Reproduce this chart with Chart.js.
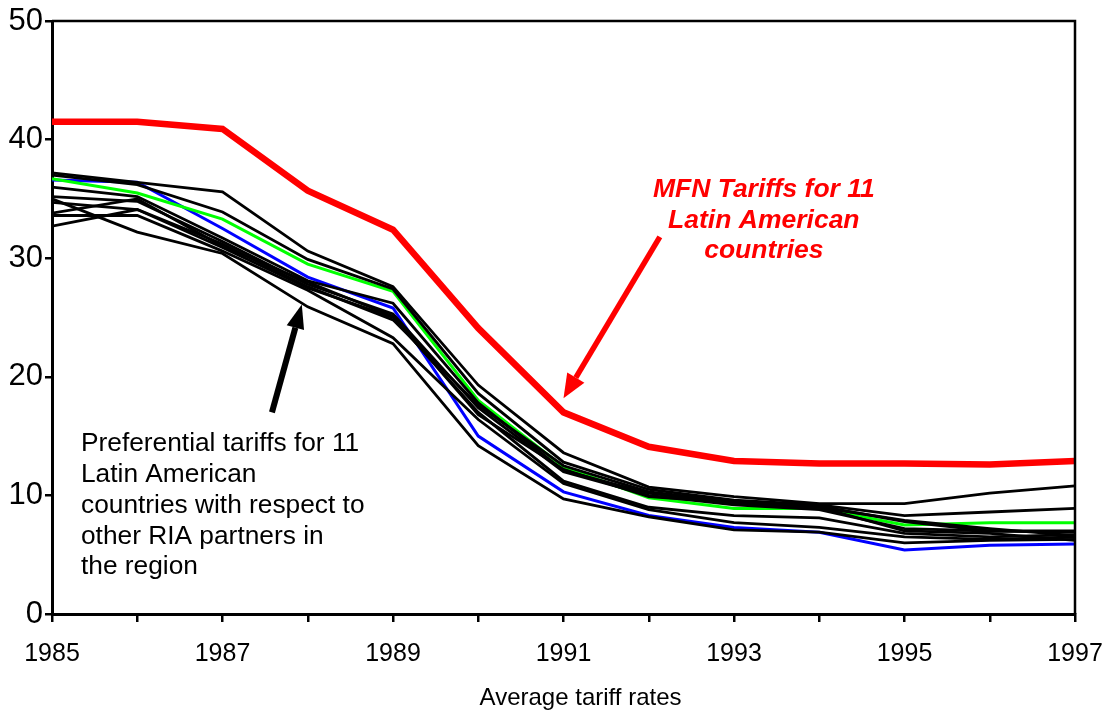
<!DOCTYPE html>
<html lang="en">
<head>
    <meta charset="UTF-8">
    <title>Average tariff rates</title>
    <script src="https://cdn.jsdelivr.net/npm/chart.js"></script>
    <style>
        html, body { margin: 0; padding: 0; background: #fff; }
        #wrap { width: 1102px; height: 716px; position: relative; }
    </style>
</head>
<body>
    <div id="wrap"><canvas id="tariffChart"></canvas></div>
    <script>
        // data
        const years = [1985, 1986, 1987, 1988, 1989, 1990, 1991, 1992, 1993, 1994, 1995, 1996, 1997];
        const mfnTariffs = [41.5, 41.5, 40.9, 35.7, 32.4, 24.1, 17.0, 14.1, 12.9, 12.7, 12.7, 12.6, 12.9];
        const greenCountry = [36.7, 35.5, 33.3, 29.5, 27.2, 18.0, 12.4, 9.8, 8.9, 8.9, 7.5, 7.7, 7.7];
        const blueCountry = [36.6, 36.4, 32.5, 28.4, 25.8, 15.0, 10.3, 8.3, 7.3, 6.9, 5.4, 5.8, 5.9];
        const blackCountries = [
            [37.2, 36.4, 35.6, 30.6, 27.6, 19.3, 13.6, 10.7, 9.9, 9.3, 9.3, 10.2, 10.8],
            [37.0, 36.2, 33.9, 29.9, 27.4, 18.6, 12.8, 10.5, 9.6, 9.2, 8.3, 8.6, 8.9],
            [36.0, 35.2, 31.7, 28.1, 26.2, 17.8, 12.1, 10.2, 9.3, 9.0, 7.9, 7.2, 6.6],
            [35.2, 34.8, 31.4, 27.8, 25.3, 17.4, 12.0, 10.0, 9.2, 8.8, 7.2, 7.0, 7.0],
            [34.7, 34.1, 30.9, 27.5, 25.0, 17.0, 11.2, 9.0, 8.3, 8.1, 6.8, 6.5, 6.7],
            [33.6, 33.6, 30.6, 27.3, 23.3, 16.4, 11.0, 8.8, 7.7, 7.3, 6.5, 6.3, 6.5],
            [33.8, 35.0, 31.0, 28.0, 25.1, 16.8, 12.2, 9.9, 9.4, 9.0, 7.0, 6.8, 6.2],
            [32.7, 34.1, 31.2, 27.6, 24.8, 17.6, 12.5, 10.3, 9.5, 9.1, 7.8, 7.0, 6.9],
            [35.0, 32.2, 30.4, 25.9, 22.8, 14.2, 9.7, 8.2, 7.1, 6.9, 6.0, 6.2, 6.3]
        ];
        const yTicks = [0, 10, 20, 30, 40, 50];
        const xLabelYears = [1985, 1987, 1989, 1991, 1993, 1995, 1997];

        const xTitle = 'Average tariff rates';
        const mfnNote = ['MFN Tariffs for 11', 'Latin American', 'countries'];
        const prefNote = ['Preferential tariffs for 11', 'Latin American', 'countries with respect to', 'other RIA partners in', 'the region'];

        function toPoints(values) {
            return values.map((v, i) => ({ x: years[i], y: v }));
        }

        const datasets = [];
        blackCountries.forEach(function(values) {
            datasets.push({ data: toPoints(values), borderColor: '#000', borderWidth: 2.8 });
        });
        datasets.push({ data: toPoints(greenCountry), borderColor: '#00ff00', borderWidth: 3 });
        datasets.push({ data: toPoints(blueCountry), borderColor: '#0000ff', borderWidth: 3 });
        datasets.push({ data: toPoints(mfnTariffs), borderColor: '#ff0000', borderWidth: 6.5 });

        function drawArrow(ctx, x1, y1, x2, y2, color, width, headLen, headWidth) {
            const ang = Math.atan2(y2 - y1, x2 - x1);
            const bx = x2 - headLen * Math.cos(ang);
            const by = y2 - headLen * Math.sin(ang);
            ctx.save();
            ctx.strokeStyle = color;
            ctx.fillStyle = color;
            ctx.lineWidth = width;
            ctx.beginPath();
            ctx.moveTo(x1, y1);
            ctx.lineTo(bx, by);
            ctx.stroke();
            ctx.beginPath();
            ctx.moveTo(x2, y2);
            ctx.lineTo(bx + headWidth / 2 * Math.sin(ang), by - headWidth / 2 * Math.cos(ang));
            ctx.lineTo(bx - headWidth / 2 * Math.sin(ang), by + headWidth / 2 * Math.cos(ang));
            ctx.closePath();
            ctx.fill();
            ctx.restore();
        }

        // frame, notes, arrows and the axis title
        const notesPlugin = {
            id: 'notes',
            afterDatasetsDraw(chart) {
                const ctx = chart.ctx;
                const xs = chart.scales.x, ys = chart.scales.y;
                const area = chart.chartArea;

                ctx.save();
                ctx.strokeStyle = '#000';
                ctx.lineWidth = 2.5;
                ctx.beginPath();
                ctx.moveTo(area.left, area.top);
                ctx.lineTo(area.right, area.top);
                ctx.lineTo(area.right, area.bottom);
                ctx.stroke();
                ctx.restore();

                drawArrow(ctx, xs.getPixelForValue(1992.13), ys.getPixelForValue(31.8),
                    xs.getPixelForValue(1991.0), ys.getPixelForValue(18.2), '#ff0000', 5.5, 24, 20);
                drawArrow(ctx, xs.getPixelForValue(1987.58), ys.getPixelForValue(17.0),
                    xs.getPixelForValue(1987.93), ys.getPixelForValue(26.1), '#000', 6, 24, 18);

                ctx.save();
                ctx.fillStyle = '#ff0000';
                ctx.font = 'italic bold 26.5px "Liberation Sans", Arial, sans-serif';
                ctx.textAlign = 'center';
                ctx.textBaseline = 'middle';
                const mx = xs.getPixelForValue(1993.35);
                mfnNote.forEach(function(line, i) {
                    ctx.fillText(line, mx, ys.getPixelForValue(35.8 - i * 2.6));
                });
                ctx.fillStyle = '#000';
                ctx.font = '26.3px "Liberation Sans", Arial, sans-serif';
                ctx.textAlign = 'left';
                const px = xs.getPixelForValue(1985.34);
                prefNote.forEach(function(line, i) {
                    ctx.fillText(line, px, ys.getPixelForValue(14.35 - i * 2.6));
                });

                ctx.textAlign = 'center';
                ctx.font = '24px "Liberation Sans", Arial, sans-serif';
                ctx.fillText(xTitle, xs.getPixelForValue(1991.2), area.bottom + 84);
                ctx.restore();
            }
        };

        const ctx = document.getElementById('tariffChart').getContext('2d');
        const tariffChart = new Chart(ctx, {
            type: 'line',
            data: { datasets: datasets },
            options: {
                responsive: true,
                maintainAspectRatio: false,
                animation: false,
                layout: { padding: { top: 21, right: 0, left: 0, bottom: 0 } },
                elements: {
                    point: { radius: 0, hoverRadius: 0 },
                    line: { tension: 0, borderJoinStyle: 'miter', fill: false }
                },
                plugins: {
                    legend: { display: false },
                    tooltip: { enabled: false }
                },
                scales: {
                    x: {
                        type: 'linear',
                        min: years[0],
                        max: years[years.length - 1],
                        afterBuildTicks: function(scale) {
                            scale.ticks = years.map(v => ({ value: v }));
                        },
                        afterFit: function(scale) {
                            scale.height = 102;
                            scale.paddingRight = 27;
                        },
                        border: { display: true, color: '#000', width: 3 },
                        grid: { drawOnChartArea: false, drawTicks: true, tickLength: 8, color: '#000', lineWidth: 2.5 },
                        ticks: {
                            color: '#000',
                            font: { family: '"Liberation Sans", Arial, sans-serif', size: 25 },
                            padding: 17,
                            maxRotation: 0,
                            autoSkip: false,
                            callback: function(v) { return xLabelYears.includes(v) ? String(v) : ''; }
                        }
                    },
                    y: {
                        min: yTicks[0],
                        max: yTicks[yTicks.length - 1],
                        afterBuildTicks: function(scale) {
                            scale.ticks = yTicks.map(v => ({ value: v }));
                        },
                        afterFit: function(scale) { scale.width = 52; },
                        border: { display: true, color: '#000', width: 3 },
                        grid: { drawOnChartArea: false, drawTicks: true, tickLength: 7, color: '#000', lineWidth: 2.5 },
                        ticks: {
                            color: '#000',
                            font: { family: '"Liberation Sans", Arial, sans-serif', size: 31 },
                            padding: 2
                        }
                    }
                }
            },
            plugins: [notesPlugin]
        });
    </script>
</body>
</html>
